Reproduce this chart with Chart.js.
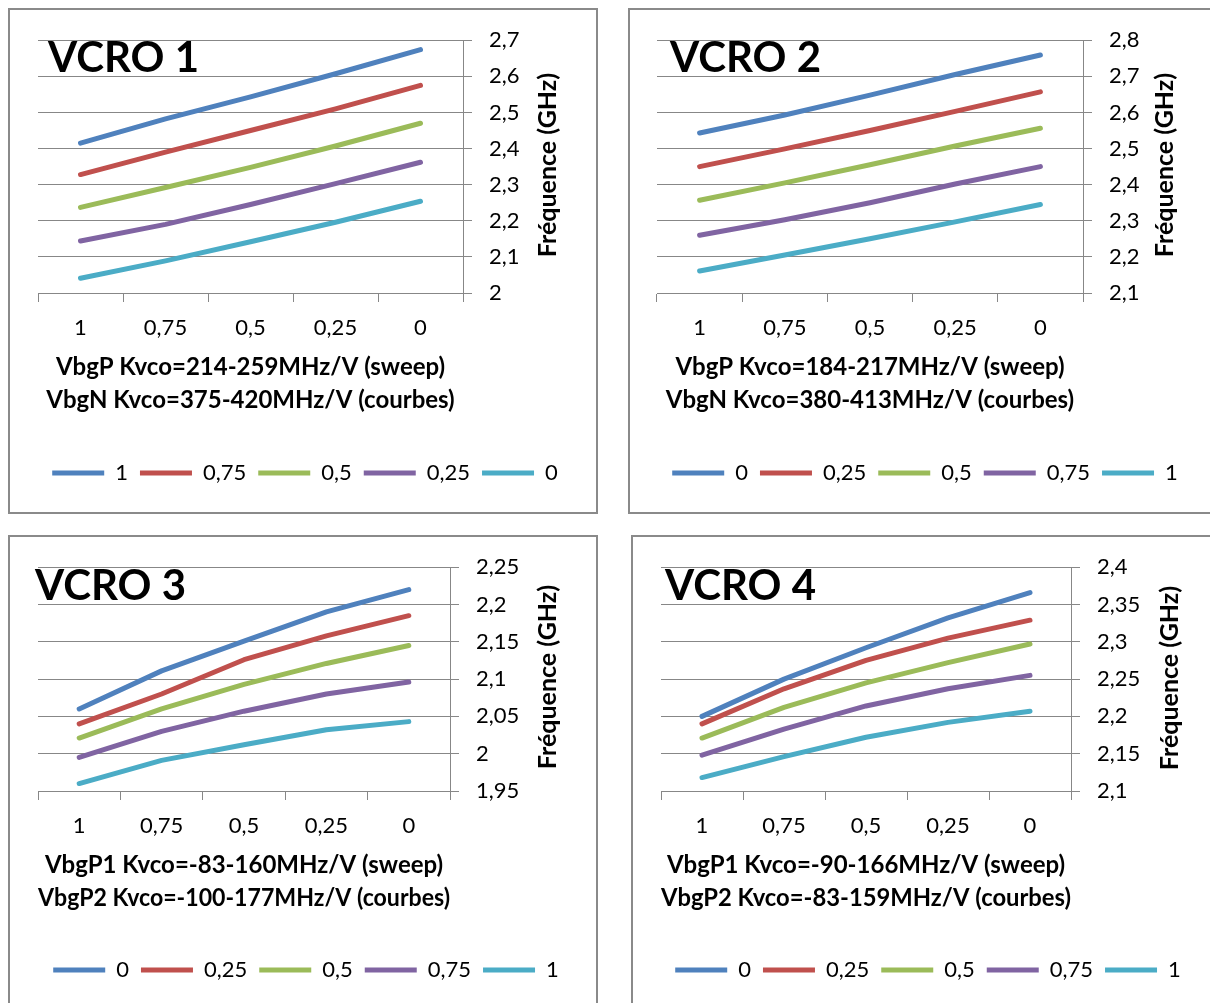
<!DOCTYPE html>
<html>
<head>
<meta charset="utf-8">
<script src="https://cdn.jsdelivr.net/npm/chart.js@4"></script>
<style>
    html, body { margin: 0; padding: 0; background: #fff; overflow: hidden; }
    body { width: 1210px; height: 1003px; position: relative; }
    .panel { position: absolute; border: 2px solid #8a8a8a; box-sizing: border-box; overflow: hidden; }
    .panel canvas { position: absolute; left: 0; top: 0; }
</style>
</head>
<body>
<div class="panel" style="left:8px; top:8px; width:590px; height:506px;"><canvas id="vcro1" width="562" height="502"></canvas></div>
<div class="panel" style="left:628px; top:8px; width:600px; height:506px;"><canvas id="vcro2" width="563" height="502"></canvas></div>
<div class="panel" style="left:8px; top:535px; width:590px; height:480px;"><canvas id="vcro3" width="564" height="466"></canvas></div>
<div class="panel" style="left:631px; top:535px; width:600px; height:480px;"><canvas id="vcro4" width="562" height="466"></canvas></div>

<script>
// x axis (sweep voltage), same for all four charts
const sweepLabels = ['1', '0,75', '0,5', '0,25', '0'];

// VCRO 1 - curves labelled by VbgN
const vcro1Curves = ['1', '0,75', '0,5', '0,25', '0'];
const vcro1A = [2.415, 2.482, 2.543, 2.607, 2.674];
const vcro1B = [2.328, 2.390, 2.450, 2.510, 2.575];
const vcro1C = [2.237, 2.292, 2.348, 2.407, 2.470];
const vcro1D = [2.144, 2.190, 2.245, 2.303, 2.362];
const vcro1E = [2.041, 2.089, 2.142, 2.196, 2.254];

// VCRO 2
const vcro2Curves = ['0', '0,25', '0,5', '0,75', '1'];
const vcro2A = [2.543, 2.593, 2.648, 2.705, 2.759];
const vcro2B = [2.450, 2.499, 2.550, 2.603, 2.657];
const vcro2C = [2.357, 2.405, 2.455, 2.507, 2.556];
const vcro2D = [2.260, 2.303, 2.350, 2.402, 2.450];
const vcro2E = [2.161, 2.205, 2.250, 2.297, 2.345];

// VCRO 3
const vcro3Curves = ['0', '0,25', '0,5', '0,75', '1'];
const vcro3A = [2.060, 2.111, 2.151, 2.190, 2.220];
const vcro3B = [2.040, 2.080, 2.126, 2.158, 2.185];
const vcro3C = [2.021, 2.060, 2.093, 2.121, 2.145];
const vcro3D = [1.995, 2.030, 2.057, 2.080, 2.096];
const vcro3E = [1.960, 1.991, 2.012, 2.032, 2.043];

// VCRO 4
const vcro4Curves = ['0', '0,25', '0,5', '0,75', '1'];
const vcro4A = [2.200, 2.250, 2.292, 2.332, 2.366];
const vcro4B = [2.190, 2.237, 2.275, 2.305, 2.329];
const vcro4C = [2.171, 2.212, 2.245, 2.272, 2.297];
const vcro4D = [2.148, 2.183, 2.214, 2.237, 2.255];
const vcro4E = [2.118, 2.146, 2.172, 2.192, 2.207];

const curveColors = ['#4f81bd', '#c0504d', '#9bbb59', '#8064a2', '#4bacc6'];
const gridColor = '#878787';
const FONT = 'Lato';
const LEGEND_PAD = 12;


function fmtComma(v) {
    return String(parseFloat(v.toFixed(2))).replace('.', ',');
}


// draws the "VCRO n" name and the right hand axis title (it reads bottom to top)
const panelText = {
    id: 'panelText',
    afterDraw(chart, args, opts) {
        const ctx = chart.ctx;
        ctx.save();
        ctx.fillStyle = '#000';
        ctx.textAlign = 'left';
        ctx.textBaseline = 'alphabetic';
        ctx.font = `bold 42px ${FONT}`;
        ctx.fillText(opts.name, opts.nameX, opts.nameY);

        ctx.translate(opts.axisTitleX, opts.axisTitleY);
        ctx.rotate(-Math.PI / 2);
        ctx.textAlign = 'center';
        ctx.textBaseline = 'middle';
        ctx.font = `bold 25px ${FONT}`;
        ctx.fillText('Fréquence (GHz)', 0, 0);
        ctx.restore();
    }
};


function makePanel(id, p) {
    const canvas = document.getElementById(id);
    const W = canvas.width, H = canvas.height;
    const padBottom = H - 21 - p.legendY;
    const legendTop = H - padBottom - (22 + LEGEND_PAD + 10);

    const datasets = p.series.map((data, i) => ({
        label: p.curves[i],
        data: data,
        borderColor: curveColors[i],
        backgroundColor: curveColors[i],
        borderWidth: 5,
        borderCapStyle: 'round',
        borderJoinStyle: 'round',
        pointRadius: 0,
        tension: 0,
        fill: false
    }));

    return new Chart(canvas.getContext('2d'), {
        type: 'line',
        data: { labels: sweepLabels, datasets: datasets },
        plugins: [panelText],
        options: {
            responsive: false,
            animation: false,
            devicePixelRatio: 1,
            layout: { padding: { left: p.plot.left, top: p.plot.top, right: 0, bottom: padBottom } },
            scales: {
                x: {
                    offset: true,
                    grid: { offset: true, drawOnChartArea: false, drawTicks: true, tickLength: 9, color: gridColor },
                    border: { color: gridColor },
                    ticks: { color: '#000', padding: 13, maxRotation: 0, font: { family: FONT, size: 22 } },
                    title: {
                        display: true,
                        text: p.xTitle,
                        color: '#000',
                        font: { family: FONT, size: 24, weight: 'bold', lineHeight: '33px' },
                        padding: { top: 0, bottom: legendTop - 16.5 - p.titleY2 }
                    },
                    afterFit: scale => { scale.height = legendTop - p.plot.bottom; }
                },
                y: {
                    position: 'right',
                    min: p.yMin,
                    max: p.yMax,
                    grid: { color: gridColor, tickLength: 9 },
                    border: { color: gridColor },
                    ticks: {
                        stepSize: p.yStep,
                        color: '#000',
                        padding: 17,
                        font: { family: FONT, size: 22 },
                        callback: v => fmtComma(v)
                    },
                    afterFit: scale => { scale.width = W - p.plot.right; }
                }
            },
            plugins: {
                legend: {
                    position: 'bottom',
                    labels: {
                        usePointStyle: true,
                        pointStyle: 'line',
                        pointStyleWidth: 52,
                        padding: LEGEND_PAD,
                        color: '#000',
                        font: { family: FONT, size: 22 }
                    }
                },
                tooltip: { enabled: false },
                panelText: {
                    name: p.name,
                    nameX: p.nameX,
                    nameY: p.nameY,
                    axisTitleX: p.axisTitleX,
                    axisTitleY: p.axisTitleY
                }
            }
        }
    });
}


makePanel('vcro1', {
    name: 'VCRO 1', nameX: 38, nameY: 62,
    curves: vcro1Curves,
    series: [vcro1A, vcro1B, vcro1C, vcro1D, vcro1E],
    yMin: 2, yMax: 2.7, yStep: 0.1,
    plot: { left: 28, right: 453, top: 28, bottom: 283 },
    xTitle: ['VbgP Kvco=214-259MHz/V (sweep)', 'VbgN Kvco=375-420MHz/V (courbes)'],
    titleY2: 390.5, legendY: 463,
    axisTitleX: 538, axisTitleY: 155
});

makePanel('vcro2', {
    name: 'VCRO 2', nameX: 40, nameY: 62,
    curves: vcro2Curves,
    series: [vcro2A, vcro2B, vcro2C, vcro2D, vcro2E],
    yMin: 2.1, yMax: 2.8, yStep: 0.1,
    plot: { left: 27, right: 453, top: 28, bottom: 283 },
    xTitle: ['VbgP Kvco=184-217MHz/V (sweep)', 'VbgN Kvco=380-413MHz/V (courbes)'],
    titleY2: 390.5, legendY: 463,
    axisTitleX: 535, axisTitleY: 155
});

makePanel('vcro3', {
    name: 'VCRO 3', nameX: 25, nameY: 63,
    curves: vcro3Curves,
    series: [vcro3A, vcro3B, vcro3C, vcro3D, vcro3E],
    yMin: 1.95, yMax: 2.25, yStep: 0.05,
    plot: { left: 28, right: 440, top: 26, bottom: 254 },
    xTitle: ['VbgP1 Kvco=-83-160MHz/V (sweep)', 'VbgP2 Kvco=-100-177MHz/V (courbes)'],
    titleY2: 361.5, legendY: 433,
    axisTitleX: 538, axisTitleY: 140
});

makePanel('vcro4', {
    name: 'VCRO 4', nameX: 32, nameY: 63,
    curves: vcro4Curves,
    series: [vcro4A, vcro4B, vcro4C, vcro4D, vcro4E],
    yMin: 2.1, yMax: 2.4, yStep: 0.05,
    plot: { left: 28, right: 438, top: 26, bottom: 254 },
    xTitle: ['VbgP1 Kvco=-90-166MHz/V (sweep)', 'VbgP2 Kvco=-83-159MHz/V (courbes)'],
    titleY2: 361.5, legendY: 433,
    axisTitleX: 537, axisTitleY: 141
});
</script>
</body>
</html>
